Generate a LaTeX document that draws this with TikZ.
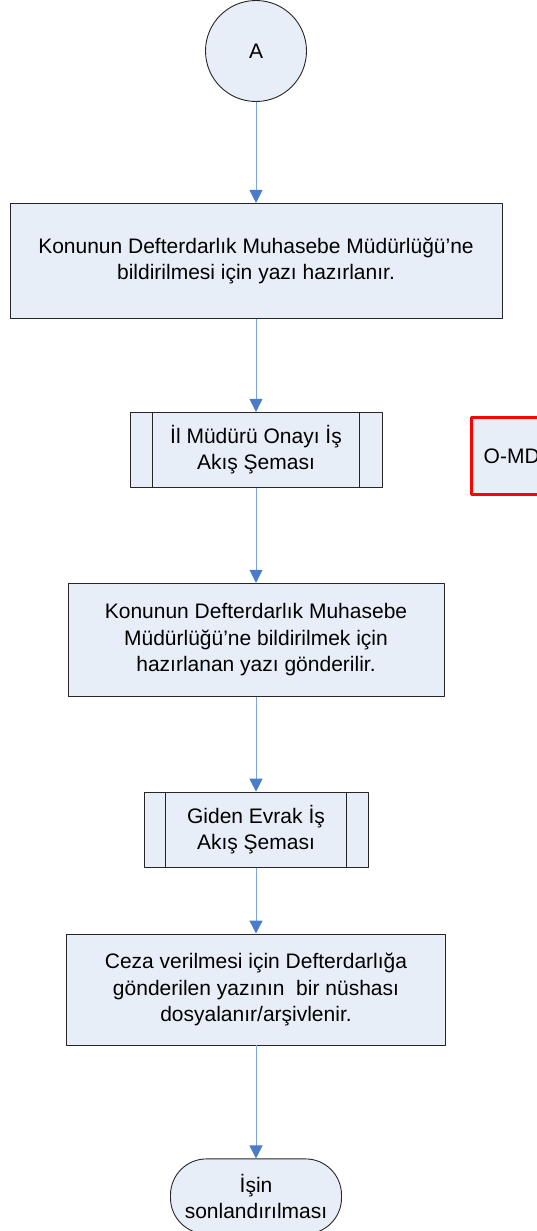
\documentclass[tikz,border=0pt]{standalone}
\usepackage{fontspec}
\setmainfont{Liberation Sans}
\usetikzlibrary{arrows.meta,positioning}

\definecolor{boxfill}{HTML}{E8EEF8}
\definecolor{linkblue}{HTML}{7FA5DC}
\definecolor{tipblue}{HTML}{4A7CC9}
\definecolor{alertred}{HTML}{FF0000}

\begin{document}
\begin{tikzpicture}[
    x=1pt, y=1pt,
    font=\fontsize{21}{26.5}\selectfont,
    line join=round,
    process/.style={
        draw=black!85,
        fill=boxfill,
        line width=0.9pt,
        rectangle,
        align=center,
        inner sep=0pt
    },
    subprocess/.style={
        process,
        minimum height=75pt
    },
    terminal/.style={
        process,
        rounded corners=36pt,
        minimum width=171pt,
        minimum height=75pt
    },
    connector/.style={
        process,
        circle,
        minimum size=101pt
    },
    flow/.style={
        draw=linkblue,
        line width=1pt,
        -{Triangle[width=13pt,length=13pt,color=tipblue]}
    }
]

% =========================
% Background / page size
% =========================
\useasboundingbox (0,0) rectangle (537,-1231);

% =========================
% Nodes
% =========================
\node[connector] (start) at (256,-51) {A};

\node[process, minimum width=492pt, minimum height=115pt, below=101pt of start] (write) {Konunun Defterdarlık Muhasebe Müdürlüğü’ne\\bildirilmesi için yazı hazırlanır.};

\node[subprocess, minimum width=252pt, below=93pt of write] (approve) {İl Müdürü Onayı İş\\Akış Şeması};

\node[process, draw=alertred, line width=2.5pt, minimum height=77pt, text width=110pt, align=left, inner xsep=12pt, right=88pt of approve, yshift=-6pt] (omd) {O-MD};

\node[process, minimum width=376pt, minimum height=113pt, below=95pt of approve] (send) {Konunun Defterdarlık Muhasebe\\Müdürlüğü’ne bildirilmek için\\hazırlanan yazı gönderilir.};

\node[subprocess, minimum width=224pt, below=95pt of send] (outgoing) {Giden Evrak İş\\Akış Şeması};

\node[process, minimum width=379pt, minimum height=111pt, below=66pt of outgoing] (archive) {Ceza verilmesi için Defterdarlığa\\gönderilen yazının \ bir nüshası\\dosyalanır/arşivlenir.};

\node[terminal, below=113pt of archive] (finish) {İşin\\sonlandırılması};

% =========================
% Sub-process side bars
% =========================
\draw[draw=black!85, line width=0.9pt] ([xshift=23pt]approve.north west) -- ([xshift=23pt]approve.south west);
\draw[draw=black!85, line width=0.9pt] ([xshift=-23pt]approve.north east) -- ([xshift=-23pt]approve.south east);
\draw[draw=black!85, line width=0.9pt] ([xshift=22pt]outgoing.north west) -- ([xshift=22pt]outgoing.south west);
\draw[draw=black!85, line width=0.9pt] ([xshift=-22pt]outgoing.north east) -- ([xshift=-22pt]outgoing.south east);

% =========================
% Main flow
% =========================
\draw[flow] (start) -- (write);
\draw[flow] (write) -- (approve);
\draw[flow] (approve) -- (send);
\draw[flow] (send) -- (outgoing);
\draw[flow] (outgoing) -- (archive);
\draw[flow] (archive) -- (finish);

\end{tikzpicture}
\end{document}
